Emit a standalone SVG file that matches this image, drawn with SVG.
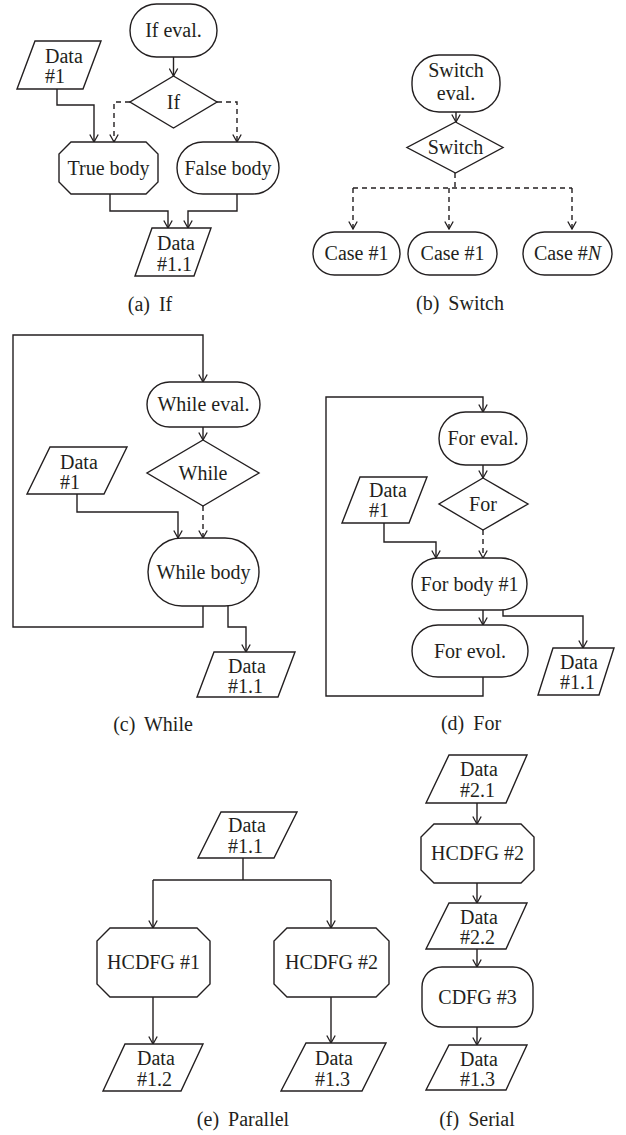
<svg xmlns="http://www.w3.org/2000/svg" width="626" height="1135" viewBox="0 0 626 1135" font-family="'Liberation Serif', 'Times New Roman', serif">
<defs>
<marker id="ah" viewBox="0 0 10 10" refX="9.5" refY="5" markerWidth="10" markerHeight="10" markerUnits="userSpaceOnUse" orient="auto"><path d="M2,0.8 L9.5,5 L2,9.2" fill="none" stroke="#231f20" stroke-width="1.3"/></marker>
<style>
.n{fill:#fff;stroke:#231f20;stroke-width:1.4}
.c{fill:none;stroke:#231f20;stroke-width:1.4}
.a{marker-end:url(#ah)}
.d{stroke-dasharray:5 4}
text{font-family:'Liberation Serif','Times New Roman',serif;font-size:20px;fill:#231f20}
.m{text-anchor:middle}
</style>
</defs>
<rect width="626" height="1135" fill="#fff"/>

<g id="connectors">
<!-- (a) If -->
<path class="c a" d="M173.5,57 V76"/>
<path class="c a" d="M57,89 V105 H94 V142"/>
<path class="c a d" d="M130,102 H114 V142"/>
<path class="c a d" d="M217,102 H237 V142"/>
<path class="c a" d="M110,194 V211 H168 V228"/>
<path class="c a" d="M237,194 V211 H188 V228"/>
<!-- (b) Switch -->
<path class="c a" d="M456,112 V122"/>
<path class="c d" d="M455,173 V188"/>
<path class="c d" d="M353,188 H572"/>
<path class="c a d" d="M353,188 V229"/>
<path class="c a d" d="M449,188 V229"/>
<path class="c a d" d="M572,188 V229"/>
<!-- (c) While -->
<path class="c a" d="M203,606 V627 H13 V335 H203 V382"/>
<path class="c a" d="M203,427 V440"/>
<path class="c a d" d="M203,506 V538"/>
<path class="c a" d="M77,494 V512 H178 V538"/>
<path class="c a" d="M228,606 V627 H246 V652"/>
<!-- (d) For -->
<path class="c a" d="M483,677 V696 H326 V397 H483 V412"/>
<path class="c a" d="M483,465 V478"/>
<path class="c a d" d="M483,530 V558"/>
<path class="c a" d="M384,523 V542 H436 V558"/>
<path class="c a" d="M483,610 V625"/>
<path class="c a" d="M503,610 V616 H583 V648"/>
<!-- (e) Parallel -->
<path class="c" d="M243,858 V880"/>
<path class="c" d="M153,880 H331"/>
<path class="c a" d="M153,880 V928"/>
<path class="c a" d="M331,880 V928"/>
<path class="c a" d="M153,997 V1044"/>
<path class="c a" d="M331,997 V1043"/>
<!-- (f) Serial -->
<path class="c a" d="M477,803 V824"/>
<path class="c a" d="M477,883 V903"/>
<path class="c a" d="M477,949 V967"/>
<path class="c a" d="M477,1027 V1045"/>
</g>

<!-- (a) If -->
<g id="a-ifeval"><rect class="n" x="130" y="4" width="87" height="53" rx="26.5"/><text class="m" x="173.5" y="37">If eval.</text></g>
<g id="a-if"><polygon class="n" points="173.5,76 217,102 173.5,128 130,102"/><text class="m" x="173.5" y="109">If</text></g>
<g id="a-data1"><polygon class="n" points="35,41 101,41 83,89 17,89"/><text x="45" y="63">Data</text><text x="45" y="83">#1</text></g>
<g id="a-true"><polygon class="n" points="71,142 146,142 158,154 158,182 146,194 71,194 59,182 59,154"/><text class="m" x="108.5" y="175">True body</text></g>
<g id="a-false"><rect class="n" x="177" y="142" width="102" height="52" rx="26"/><text class="m" x="228" y="175">False body</text></g>
<g id="a-data11"><polygon class="n" points="152,228 211,228 194,276 135,276"/><text x="157" y="250">Data</text><text x="157" y="271">#1.1</text></g>
<g id="a-cap"><text class="m" x="150" y="311" word-spacing="4">(a) If</text></g>

<!-- (b) Switch -->
<g id="b-eval"><rect class="n" x="412" y="55" width="88" height="57" rx="27"/><text class="m" x="456" y="77">Switch</text><text class="m" x="456" y="100">eval.</text></g>
<g id="b-switch"><polygon class="n" points="455.5,122 503,147.5 455.5,173 407,147.5"/><text class="m" x="455.5" y="154">Switch</text></g>
<g id="b-case1"><rect class="n" x="313" y="232" width="87" height="43" rx="21.5"/><text class="m" x="356.5" y="260">Case #1</text></g>
<g id="b-case2"><rect class="n" x="408" y="232" width="89" height="43" rx="21.5"/><text class="m" x="452.5" y="260">Case #1</text></g>
<g id="b-caseN"><rect class="n" x="523" y="232" width="89" height="43" rx="21.5"/><text class="m" x="567.5" y="260">Case #<tspan font-style="italic">N</tspan></text></g>
<g id="b-cap"><text class="m" x="460" y="310" word-spacing="4">(b) Switch</text></g>

<!-- (c) While -->
<g id="c-eval"><rect class="n" x="147" y="382" width="113" height="45" rx="22.5"/><text class="m" x="203.5" y="411">While eval.</text></g>
<g id="c-while"><polygon class="n" points="203,440 259,473 203,506 147,473"/><text class="m" x="203" y="480">While</text></g>
<g id="c-data1"><polygon class="n" points="50,447 127,447 104,494 27,494"/><text x="60" y="469">Data</text><text x="60" y="489">#1</text></g>
<g id="c-body"><rect class="n" x="148" y="538" width="111" height="68" rx="34"/><text class="m" x="203.5" y="579">While body</text></g>
<g id="c-data11"><polygon class="n" points="214,652 295,652 278,697 197,697"/><text x="228" y="673">Data</text><text x="228" y="693">#1.1</text></g>
<g id="c-cap"><text class="m" x="153" y="731" word-spacing="4">(c) While</text></g>

<!-- (d) For -->
<g id="d-eval"><rect class="n" x="439" y="412" width="88" height="53" rx="26.5"/><text class="m" x="483" y="445">For eval.</text></g>
<g id="d-for"><polygon class="n" points="483,478 528,504 483,530 439,504"/><text class="m" x="483" y="511">For</text></g>
<g id="d-data1"><polygon class="n" points="360,477 427,477 409,523 342,523"/><text x="369" y="497">Data</text><text x="369" y="517">#1</text></g>
<g id="d-body"><rect class="n" x="412" y="558" width="115" height="52" rx="26"/><text class="m" x="469.5" y="591">For body #1</text></g>
<g id="d-evol"><rect class="n" x="412" y="625" width="116" height="52" rx="26"/><text class="m" x="470" y="658">For evol.</text></g>
<g id="d-data11"><polygon class="n" points="553,648 614,648 599,695 538,695"/><text x="560" y="669">Data</text><text x="560" y="689">#1.1</text></g>
<g id="d-cap"><text class="m" x="471" y="730" word-spacing="4">(d) For</text></g>

<!-- (e) Parallel -->
<g id="e-data11"><polygon class="n" points="221,812 297,812 274,858 198,858"/><text x="228" y="832">Data</text><text x="228" y="853">#1.1</text></g>
<g id="e-h1"><polygon class="n" points="110,928 197,928 210,941 210,984 197,997 110,997 97,984 97,941"/><text class="m" x="153.5" y="969">HCDFG #1</text></g>
<g id="e-h2"><polygon class="n" points="287,928 376,928 389,941 389,984 376,997 287,997 274,984 274,941"/><text class="m" x="331.5" y="969">HCDFG #2</text></g>
<g id="e-data12"><polygon class="n" points="125,1044 203,1044 181,1091 103,1091"/><text x="137" y="1065">Data</text><text x="137" y="1086">#1.2</text></g>
<g id="e-data13"><polygon class="n" points="306,1043 386,1043 362,1091 281,1091"/><text x="315" y="1065">Data</text><text x="315" y="1086">#1.3</text></g>
<g id="e-cap"><text class="m" x="243" y="1126" word-spacing="4">(e) Parallel</text></g>

<!-- (f) Serial -->
<g id="f-data21"><polygon class="n" points="449,755 527,755 506,803 426,803"/><text x="460" y="776">Data</text><text x="460" y="797">#2.1</text></g>
<g id="f-h2"><polygon class="n" points="434,824 521,824 534,837 534,870 521,883 434,883 421,870 421,837"/><text class="m" x="477.5" y="860">HCDFG #2</text></g>
<g id="f-data22"><polygon class="n" points="449,903 527,903 506,949 426,949"/><text x="460" y="924">Data</text><text x="460" y="944">#2.2</text></g>
<g id="f-cdfg3"><rect class="n" x="422" y="967" width="111" height="60" rx="20"/><text class="m" x="477.5" y="1004">CDFG #3</text></g>
<g id="f-data13"><polygon class="n" points="449,1045 527,1045 506,1090 426,1090"/><text x="460" y="1066">Data</text><text x="460" y="1086">#1.3</text></g>
<g id="f-cap"><text class="m" x="477" y="1126" word-spacing="4">(f) Serial</text></g>
</svg>
